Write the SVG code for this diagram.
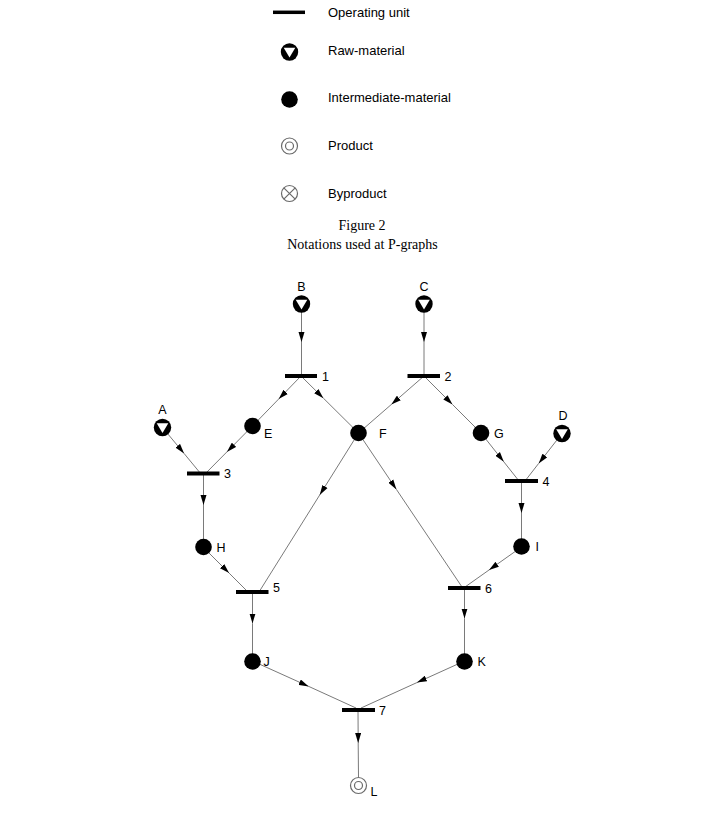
<svg xmlns="http://www.w3.org/2000/svg" width="706" height="817" viewBox="0 0 706 817">
  <style>
    .edge { fill: none; stroke: #7a7a7a; stroke-width: 1; marker-mid: url(#arrow); }
    .unit { stroke: #000; stroke-width: 4; }
    .mat { fill: #000; }
    .tri { fill: #fff; }
    .prod { fill: #fff; stroke: #6a6a6a; stroke-width: 1.2; }
    .lbl { font-family: "Liberation Sans", Arial, sans-serif; font-size: 12.5px; fill: #000; }
    .leg { font-family: "Liberation Sans", Arial, sans-serif; font-size: 13px; fill: #000; }
    .cap { font-family: "Liberation Serif", "Times New Roman", serif; font-size: 14px; fill: #000; text-anchor: middle; }
    .mid { text-anchor: middle; }
  </style>
  <defs>
    <marker id="arrow" viewBox="0 0 10 6" markerUnits="userSpaceOnUse" markerWidth="10" markerHeight="6.4" refX="10" refY="3" orient="auto">
      <path d="M0,0 L10,3 L0,6 z" fill="#000"/>
    </marker>
    <g id="raw">
      <circle r="8.7" class="mat"/>
      <polygon points="-5.8,-4.2 5.8,-4.2 0,5.6" class="tri"/>
    </g>
  </defs>

  <rect width="706" height="817" fill="#fff"/>

  <!-- legend -->
  <g id="legend">
    <line x1="273" y1="12.3" x2="305" y2="12.3" stroke="#000" stroke-width="3.5"/>
    <text class="leg" x="328" y="16.5">Operating unit</text>
    <use href="#raw" x="289.5" y="52"/>
    <text class="leg" x="328" y="55">Raw-material</text>
    <circle cx="289.5" cy="99.5" r="8.3" class="mat"/>
    <text class="leg" x="328" y="102">Intermediate-material</text>
    <circle cx="289.5" cy="146" r="8" class="prod"/>
    <circle cx="289.5" cy="146" r="4" class="prod"/>
    <text class="leg" x="328" y="150">Product</text>
    <circle cx="289.5" cy="193.5" r="8" class="prod"/>
    <path d="M283.8,187.8 L295.2,199.2 M295.2,187.8 L283.8,199.2" stroke="#6a6a6a" stroke-width="1.2"/>
    <text class="leg" x="328" y="198">Byproduct</text>
    <text class="cap" x="362" y="229.5">Figure 2</text>
    <text class="cap" x="362.5" y="248.5">Notations used at P-graphs</text>
  </g>

  <!-- connectors -->
  <g id="edges">
    <polyline class="edge" points="301.5,304 301.5,342 301.5,376"/>
    <polyline class="edge" points="424,304 424,342 424,376"/>
    <polyline class="edge" points="301,376 278.7,399 252.5,426"/>
    <polyline class="edge" points="301,376 323.4,398.2 358.5,433"/>
    <polyline class="edge" points="424,376 391.3,404.5 358.5,433"/>
    <polyline class="edge" points="424,376 452.5,404.5 481,433"/>
    <polyline class="edge" points="162.5,427.5 184.1,453.5 201,474"/>
    <polyline class="edge" points="252.5,426 226.9,451.9 205,474"/>
    <polyline class="edge" points="203.5,474 203.5,505 203.5,547"/>
    <polyline class="edge" points="203,547 229.1,573.1 248,592"/>
    <polyline class="edge" points="358.5,433 319.7,495 259,592"/>
    <polyline class="edge" points="358.5,433 396.4,489.4 462,587"/>
    <polyline class="edge" points="481,433 503.8,461.8 519,481"/>
    <polyline class="edge" points="562,433.5 538.7,463.4 525,481"/>
    <polyline class="edge" points="521.5,481 521.5,513 521.5,546"/>
    <polyline class="edge" points="521.5,547 489,570 465,587"/>
    <polyline class="edge" points="252.5,592 252.5,623.5 252.5,662"/>
    <polyline class="edge" points="464.5,588 464.5,618.5 464.5,662"/>
    <polyline class="edge" points="252.5,661 308.7,686.4 356,708"/>
    <polyline class="edge" points="464.5,661 416.9,682.6 361,708"/>
    <polyline class="edge" points="358,710 358.2,743 358.5,777"/>
  </g>

  <!-- raw materials -->
  <g id="A"><use href="#raw" x="162.5" y="427.5"/><text class="lbl mid" x="162.5" y="414">A</text></g>
  <g id="B"><use href="#raw" x="301.5" y="304"/><text class="lbl mid" x="301.5" y="291">B</text></g>
  <g id="C"><use href="#raw" x="424" y="304"/><text class="lbl mid" x="424" y="291">C</text></g>
  <g id="D"><use href="#raw" x="562" y="433.5"/><text class="lbl mid" x="563" y="419.5">D</text></g>

  <!-- intermediate materials -->
  <g id="E"><circle cx="252.5" cy="426" r="8.3" class="mat"/><text class="lbl" x="264" y="438">E</text></g>
  <g id="F"><circle cx="358.5" cy="433" r="8.3" class="mat"/><text class="lbl" x="379" y="438">F</text></g>
  <g id="G"><circle cx="481" cy="433" r="8.3" class="mat"/><text class="lbl" x="494" y="438">G</text></g>
  <g id="H"><circle cx="203.5" cy="547" r="8.3" class="mat"/><text class="lbl" x="216.5" y="552">H</text></g>
  <g id="I"><circle cx="521.5" cy="546.5" r="8.3" class="mat"/><text class="lbl" x="535.5" y="551">I</text></g>
  <g id="J"><circle cx="252.5" cy="661.5" r="8.3" class="mat"/><text class="lbl" x="263.5" y="666">J</text></g>
  <g id="K"><circle cx="464.5" cy="661.5" r="8.3" class="mat"/><text class="lbl" x="477.5" y="666">K</text></g>

  <!-- product -->
  <g id="L">
    <circle cx="358.5" cy="785.5" r="8" class="prod"/>
    <circle cx="358.5" cy="785.5" r="4" class="prod"/>
    <text class="lbl" x="370.5" y="796">L</text>
  </g>

  <!-- operating units -->
  <g id="u1"><line class="unit" x1="285" y1="376" x2="317" y2="376"/><text class="lbl" x="322" y="381">1</text></g>
  <g id="u2"><line class="unit" x1="407.5" y1="376" x2="440" y2="376"/><text class="lbl" x="444.5" y="381">2</text></g>
  <g id="u3"><line class="unit" x1="187" y1="473.5" x2="219.5" y2="473.5"/><text class="lbl" x="224" y="478">3</text></g>
  <g id="u4"><line class="unit" x1="505" y1="481" x2="538" y2="481"/><text class="lbl" x="542.5" y="486">4</text></g>
  <g id="u5"><line class="unit" x1="236" y1="592" x2="268.5" y2="592"/><text class="lbl" x="273" y="592">5</text></g>
  <g id="u6"><line class="unit" x1="448" y1="588" x2="480.5" y2="588"/><text class="lbl" x="485" y="593">6</text></g>
  <g id="u7"><line class="unit" x1="342" y1="710" x2="375" y2="710"/><text class="lbl" x="379" y="714.5">7</text></g>
</svg>
